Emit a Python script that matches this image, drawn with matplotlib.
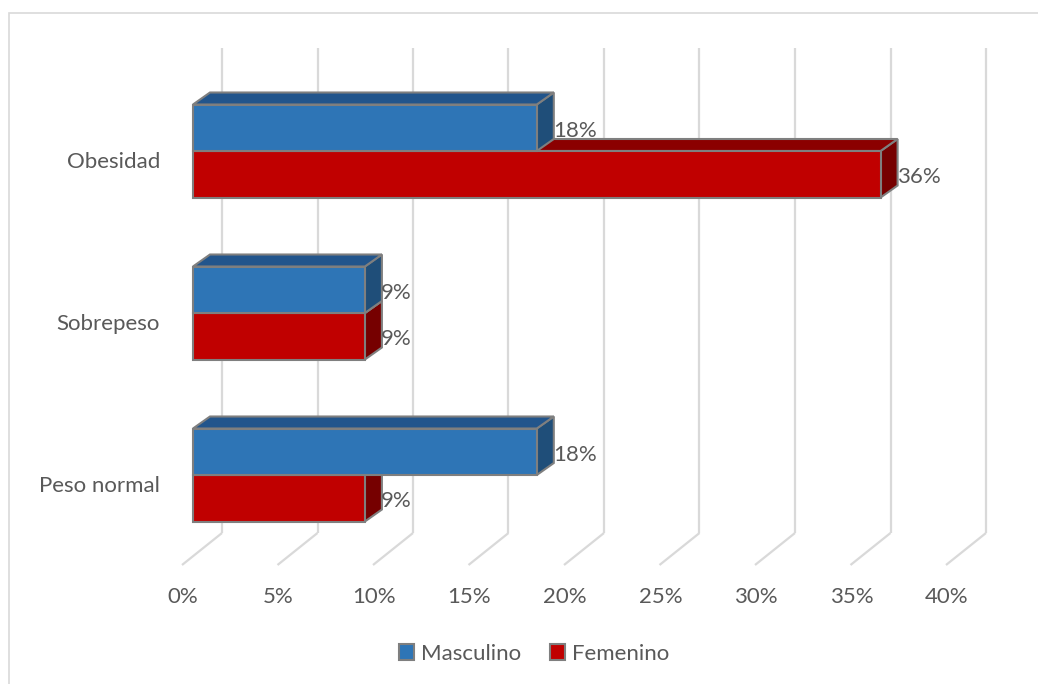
import matplotlib
matplotlib.use("Agg")
import matplotlib.pyplot as plt
from matplotlib.patches import Polygon, Rectangle, Patch

# ---- data ----
categories = ["Peso normal", "Sobrepeso", "Obesidad"]
masculino = [18, 9, 18]
femenino = [9, 9, 36]
series_names = ["Masculino", "Femenino"]
ticks = [0, 5, 10, 15, 20, 25, 30, 35, 40]
tick_labels = ["0%", "5%", "10%", "15%", "20%", "25%", "30%", "35%", "40%"]

# ---- style ----
plt.rcParams["font.family"] = ["Lato", "DejaVu Sans"]
TXT = "#595959"
GRID = "#D9D9D9"
EDGE = "#7F7F7F"
BLUE = ("#2E75B6", "#22558C", "#1F4E79")   # front, top, side
RED = ("#C00000", "#8B0000", "#760000")
FS = 16

W, H = 1038, 684
fig = plt.figure(figsize=(W / 100, H / 100), dpi=100)
ax = fig.add_axes([0, 0, 1, 1])
ax.axis("off")

PXX = 19.1   # px per percent
PXY = 162.0  # px per category
X0 = 193     # pixel column of 0% on bar front face
Y0 = 475     # pixel row (from top) of first category centre
ax.set_xlim(-X0 / PXX, (W - X0) / PXX)
ax.set_ylim((Y0 - H) / PXY, Y0 / PXY)


def px(d):
    return d / PXX


def py(d):
    return d / PXY


def row(ytop):
    return (Y0 - ytop) / PXY


# gridlines (back wall + floor)
for t in ticks:
    xb = t + px(29)
    xf = t + px(-11)
    ax.plot([xb, xb], [row(533), row(48)], color=GRID, lw=1.6, zorder=1,
            solid_capstyle="butt")
    ax.plot([xb, xf], [row(533), row(565)], color=GRID, lw=1.6, zorder=1,
            solid_capstyle="butt")

for t, lab in zip(ticks, tick_labels):
    ax.text(t + px(-10), row(597), lab, ha="center", va="center",
            fontsize=FS, color=TXT)

BH = py(46.5)
DX, DY = px(17), py(12)


def bar3d(v, y0, y1, cols, z):
    front, top, side = cols
    kw = dict(edgecolor=EDGE, lw=1.5, joinstyle="miter", zorder=z)
    ax.add_patch(Polygon([(v, y0), (v + DX, y0 + DY), (v + DX, y1 + DY), (v, y1)],
                         facecolor=side, **kw))
    ax.add_patch(Polygon([(0, y1), (v, y1), (v + DX, y1 + DY), (DX, y1 + DY)],
                         facecolor=top, **kw))
    ax.add_patch(Polygon([(0, y0), (v, y0), (v, y1), (0, y1)],
                         facecolor=front, **kw))


for i, (cat, m, f) in enumerate(zip(categories, masculino, femenino)):
    c = i
    bar3d(f, c - BH, c, RED, 3)
    bar3d(m, c, c + BH, BLUE, 4)
    ax.text(m + px(16), c + BH / 2 - py(3), f"{m}%", ha="left", va="center",
            fontsize=FS, color=TXT, zorder=6)
    ax.text(f + px(16), c - BH / 2 - py(3), f"{f}%", ha="left", va="center",
            fontsize=FS, color=TXT, zorder=6)
    ax.text(px(-33), c - py(11), cat, ha="right", va="center",
            fontsize=FS, color=TXT)

handles = [Patch(facecolor=BLUE[0], edgecolor=EDGE, lw=1.5, label=series_names[0]),
           Patch(facecolor=RED[0], edgecolor=EDGE, lw=1.5, label=series_names[1])]
fig.legend(handles=handles, loc="center", bbox_to_anchor=(534 / W, 1 - 654 / H),
           ncol=2, frameon=False, fontsize=FS, handlelength=0.7,
           handleheight=0.7, handletextpad=0.3, columnspacing=1.3,
           labelcolor=TXT)

# chart border
fig.add_artist(Rectangle((9 / W, -0.1), 1.2, 1 - 13 / H + 0.1,
                         transform=fig.transFigure, fill=False,
                         edgecolor=GRID, lw=1.2))

fig.savefig("out.png", dpi=100)
